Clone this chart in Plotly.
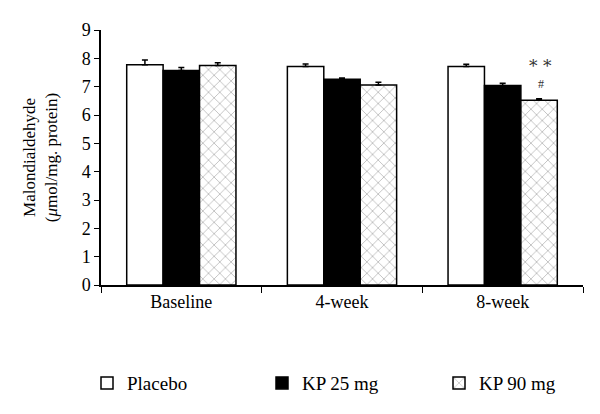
import plotly.graph_objects as go

categories = ["Baseline", "4-week", "8-week"]
placebo = [7.77, 7.71, 7.71]
placebo_err = [0.17, 0.09, 0.08]
kp25 = [7.57, 7.26, 7.04]
kp25_err = [0.11, 0.05, 0.08]
kp90 = [7.75, 7.06, 6.52]
kp90_err = [0.09, 0.10, 0.05]

FONT = "Liberation Serif"

fig = go.Figure()


def add_bar(name, vals, errs, color, legend, pattern=None):
    marker = dict(color=color, line=dict(color="black", width=1.5))
    if pattern:
        marker["pattern"] = pattern
    fig.add_trace(go.Bar(
        x=categories, y=vals, name=name, marker=marker, legend=legend,
        error_y=dict(type="data", array=errs, arrayminus=[0] * len(errs),
                     symmetric=False, color="black", thickness=1.5, width=3),
    ))


add_bar("Placebo", placebo, placebo_err, "white", "legend")
add_bar("KP 25 mg", kp25, kp25_err, "black", "legend2")
add_bar("KP 90 mg", kp90, kp90_err, "white", "legend3",
        pattern=dict(shape="x", size=8, solidity=0.18, fgcolor="#666666",
                     bgcolor="white"))

# significance marks over the 8-week KP 90 mg bar
fig.add_annotation(x="8-week", y=7.74, text="* *", showarrow=False, xshift=38,
                   font=dict(family="DejaVu Serif", size=17, color="#333333"))
fig.add_annotation(x="8-week", y=7.1, text="#", showarrow=False, xshift=38,
                   font=dict(family=FONT, size=12, color="#333333"))

# page body has an 8px margin, so the figure is drawn 8px smaller
W, H = 592, 406
L, T, R, B = 93, 22, 17, 124
PH = H - T - B


def legend_at(xpx):
    # xpx is the legend's left edge in figure pixels
    return dict(x=(xpx - L) / (W - L - R), y=(PH + T - 382) / PH,
                xanchor="left", yanchor="middle", bgcolor="rgba(0,0,0,0)",
                font=dict(family=FONT, size=19), itemwidth=30)


fig.update_layout(
    width=W, height=H,
    margin=dict(l=L, r=R, t=T, b=B),
    paper_bgcolor="white", plot_bgcolor="white",
    barmode="group", bargap=0.32, bargroupgap=0,
    font=dict(family=FONT, color="black", size=15),
    showlegend=True,
    legend=legend_at(79),
    legend2=legend_at(254),
    legend3=legend_at(431),
    xaxis=dict(showline=True, linecolor="black", linewidth=1.5,
               ticks="outside", tickson="boundaries", ticklen=6,
               tickcolor="black", tickfont=dict(size=18)),
    yaxis=dict(range=[0, 9], dtick=1, showline=True, linecolor="black",
               linewidth=1.5, ticks="outside", ticklen=5, tickcolor="black",
               showgrid=False, zeroline=False, tickfont=dict(size=18),
               title=dict(text="Malondialdehyde<br>(<i>μ</i>mol/mg. protein)",
                          font=dict(size=17), standoff=20)),
)

fig.write_html("out.html")
